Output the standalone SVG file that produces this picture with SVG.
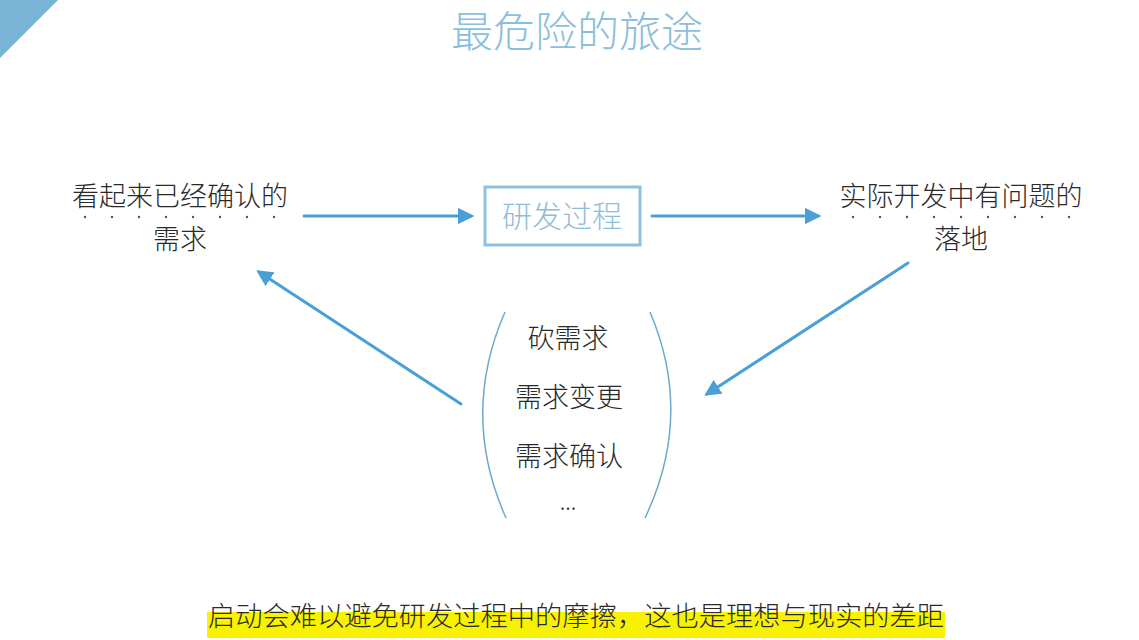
<svg xmlns="http://www.w3.org/2000/svg" width="1139" height="640" viewBox="0 0 1139 640">
<style>
.cjk{font-family:"Noto Sans CJK SC","Noto Sans",sans-serif;font-weight:300}
.dark{fill:#2a2a2a}
.conn{stroke:#4a9fd5;stroke-width:3;fill:none;stroke-linecap:round}
.dot{fill:#555}
</style>
<defs>
<marker id="ah" viewBox="0 0 10 10" refX="8" refY="5" markerWidth="5.5" markerHeight="5.5" orient="auto" markerUnits="strokeWidth">
<path d="M0,0 L10,5 L0,10 Z" fill="#4a9fd5"/>
</marker>
</defs>
<rect width="1139" height="640" fill="#fff"/>
<polygon points="0,0 58,0 0,58" fill="#7ab5d8"/>
<text class="cjk" x="577" y="47" font-size="42" text-anchor="middle" fill="#8bbfdb" font-weight="400">最危险的旅途</text>

<g id="node-left">
<text class="cjk dark" x="180" y="206" font-size="27" text-anchor="middle">看起来已经确认的</text>
<g class="dot">
<circle cx="85" cy="217" r="1.2"/><circle cx="112" cy="217" r="1.2"/><circle cx="139" cy="217" r="1.2"/><circle cx="166" cy="217" r="1.2"/><circle cx="193" cy="217" r="1.2"/><circle cx="220" cy="217" r="1.2"/><circle cx="247" cy="217" r="1.2"/><circle cx="274" cy="217" r="1.2"/>
</g>
<text class="cjk dark" x="180" y="249" font-size="27" text-anchor="middle">需求</text>
</g>

<g id="node-process">
<rect x="485" y="187" width="155" height="58" fill="none" stroke="#8fc1dc" stroke-width="3"/>
<text class="cjk" x="562" y="227" font-size="30" text-anchor="middle" fill="#8fbcd6">研发过程</text>
</g>

<g id="node-right">
<text class="cjk dark" x="961" y="206" font-size="27" text-anchor="middle">实际开发中有问题的</text>
<g class="dot">
<circle cx="853" cy="217" r="1.2"/><circle cx="880" cy="217" r="1.2"/><circle cx="907" cy="217" r="1.2"/><circle cx="934" cy="217" r="1.2"/><circle cx="961" cy="217" r="1.2"/><circle cx="988" cy="217" r="1.2"/><circle cx="1015" cy="217" r="1.2"/><circle cx="1042" cy="217" r="1.2"/><circle cx="1069" cy="217" r="1.2"/>
</g>
<text class="cjk dark" x="961" y="249" font-size="27" text-anchor="middle">落地</text>
</g>

<g id="node-middle">
<path d="M505,312 Q460,415 506,518" fill="none" stroke="#6fa8cc" stroke-width="1.5"/>
<path d="M650,312 Q694,415 645,518" fill="none" stroke="#6fa8cc" stroke-width="1.5"/>
<text class="cjk dark" x="568" y="348" font-size="27" text-anchor="middle">砍需求</text>
<text class="cjk dark" x="569" y="407" font-size="27" text-anchor="middle">需求变更</text>
<text class="cjk dark" x="569" y="466" font-size="27" text-anchor="middle">需求确认</text>
<text class="cjk dark" x="568" y="510" font-size="22" text-anchor="middle">...</text>
</g>

<g id="connectors">
<line class="conn" x1="304" y1="216" x2="471" y2="216" marker-end="url(#ah)"/>
<line class="conn" x1="652" y1="216" x2="818" y2="216" marker-end="url(#ah)"/>
<line class="conn" x1="908" y1="263" x2="707" y2="394" marker-end="url(#ah)"/>
<line class="conn" x1="461" y1="404" x2="259" y2="272" marker-end="url(#ah)"/>
</g>

<g id="caption">
<rect x="207" y="612" width="738" height="26" fill="#f8f200"/>
<text class="cjk dark" x="208" y="626" font-size="27.5" textLength="736" lengthAdjust="spacingAndGlyphs">启动会难以避免研发过程中的摩擦，这也是理想与现实的差距</text>
</g>
</svg>
